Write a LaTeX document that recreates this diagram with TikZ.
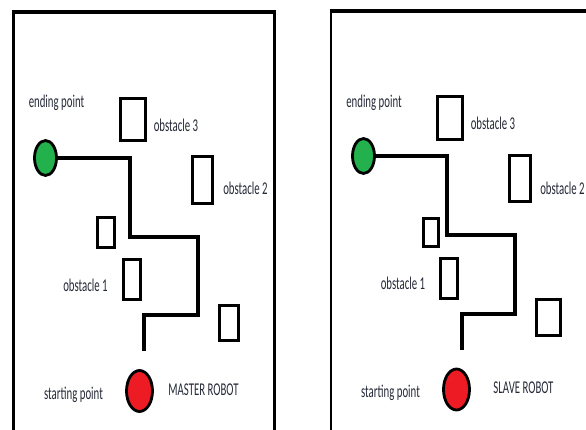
\documentclass[tikz,border=0pt]{standalone}
\usepackage{fontspec}
\setmainfont{Carlito}
\usetikzlibrary{shapes.geometric}
\definecolor{goalgreen}{RGB}{34,177,76}
\definecolor{robotred}{RGB}{237,28,36}
\definecolor{labelink}{RGB}{38,42,56}
\newcommand{\narrowtext}[1]{\scalebox{0.6}[1]{#1}}
\tikzset{
  wall/.style={line width=2.6pt},
  topwall/.style={line width=4pt},
  obstacle/.style={draw, rectangle, line width=3.2pt, inner sep=0pt},
  route/.style={line width=3.2pt},
  endmark/.style={draw, ellipse, line width=2.8pt, inner sep=0pt,
    fill=goalgreen, minimum width=22pt, minimum height=35pt},
  startmark/.style={draw, ellipse, line width=2.8pt, inner sep=0pt,
    fill=robotred, minimum width=26pt, minimum height=41pt},
  tag/.style={inner sep=0pt, text=labelink, font=\fontsize{18}{18}\selectfont}
}
\newcommand{\obst}[5]{% name, x1, x2, y1, y2
  \node[obstacle, minimum width={#3pt-#2pt}, minimum height={#5pt-#4pt}]
    (#1) at ({(#2+#3)/2},{(#4+#5)/2}) {};}
\begin{document}
\begin{tikzpicture}[x=1pt, y=-1pt]
\useasboundingbox (0,0) rectangle (586,430);
\fill[white] (0,0) rectangle (586,430);

% ---------- master arena ----------
\draw[wall] (13.5,12) -- (13.5,430);
\draw[wall] (274.5,12) -- (274.5,430);
\draw[topwall] (12.2,12) -- (275.8,12);

\obst{mThree}{120.5}{145.5}{98.5}{140.5}
\obst{mTwo}{192.5}{212.5}{156.5}{203.5}
\obst{mSmall}{97.5}{114.5}{217.5}{247.5}
\obst{mOne}{123.5}{140.5}{259.5}{299.5}
\obst{mFour}{219.5}{238.5}{305.5}{340.5}

\node[endmark] (mEnd) at (45.5,158) {};
\node[startmark] (mStart) at (139.5,391) {};
\coordinate (mTip) at (144,351);
\draw[route] (mEnd.east) -| (130,237) -| (198,315) -| (mTip);

\node[tag] (mEndLbl) at (56.5,103) {\narrowtext{ending point}};
\node[tag] (mThreeLbl) at (176,125) {\narrowtext{obstacle 3}};
\node[tag] (mTwoLbl) at (245.5,188) {\narrowtext{obstacle 2}};
\node[tag] (mOneLbl) at (85.5,285) {\narrowtext{obstacle 1}};
\node[tag] (mStartLbl) at (73.5,395) {\narrowtext{starting point}};
\node[tag] (mRobotLbl) at (203.5,390) {\narrowtext{MASTER ROBOT}};

% ---------- slave arena ----------
\draw[wall] (331,11) -- (331,430);
\draw[topwall] (329.7,11) -- (586,11);

\obst{sThree}{437.5}{462.5}{96.5}{139.5}
\obst{sTwo}{509.5}{530.5}{155.5}{201.5}
\obst{sSmall}{423.5}{438.5}{218.5}{246.5}
\obst{sOne}{440.5}{457.5}{258.5}{298.5}
\obst{sFour}{536.5}{560.5}{299.5}{335.5}

\node[endmark] (sEnd) at (363.5,156) {};
\node[startmark] (sStart) at (456.5,389.5) {};
\coordinate (sTip) at (462,350);
\draw[route] (sEnd.east) -| (447,235) -| (515,314) -| (sTip);

\node[tag] (sEndLbl) at (374,103) {\narrowtext{ending point}};
\node[tag] (sThreeLbl) at (493,123) {\narrowtext{obstacle 3}};
\node[tag] (sTwoLbl) at (562.5,188) {\narrowtext{obstacle 2}};
\node[tag] (sOneLbl) at (403,283) {\narrowtext{obstacle 1}};
\node[tag] (sStartLbl) at (390.5,393) {\narrowtext{starting point}};
\node[tag] (sRobotLbl) at (523.5,388) {\narrowtext{SLAVE ROBOT}};
\end{tikzpicture}
\end{document}
